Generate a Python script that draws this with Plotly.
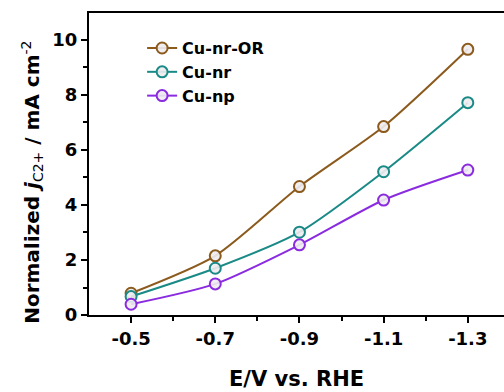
import plotly.graph_objects as go

potential = [-0.5, -0.7, -0.9, -1.1, -1.3]
cu_nr_or = [0.79, 2.15, 4.67, 6.85, 9.66]
cu_nr = [0.67, 1.70, 3.01, 5.21, 7.72]
cu_np = [0.39, 1.13, 2.55, 4.18, 5.27]

x_ticktext = ["-0.5", "-0.7", "-0.9", "-1.1", "-1.3"]
y_tickvals = [0, 2, 4, 6, 8, 10]

series = [
    ("Cu-nr-OR", cu_nr_or, "#8B5A1C"),
    ("Cu-nr", cu_nr, "#1A8A86"),
    ("Cu-np", cu_np, "#8A2BE0"),
]

fig = go.Figure()
for name, vals, col in series:
    fig.add_trace(go.Scatter(
        x=potential, y=vals, name=f"<b>{name}</b>", mode="lines+markers",
        line=dict(color=col, width=2, shape="spline", smoothing=0.7),
        marker=dict(symbol="circle", size=11, color="rgba(238,236,240,0.9)",
                    line=dict(color=col, width=2)),
    ))

font = "DejaVu Sans, Arial, sans-serif"
fig.update_layout(
    width=504, height=392,
    margin=dict(l=89, r=0, t=13, b=77),
    paper_bgcolor="white", plot_bgcolor="white",
    font=dict(family=font, color="black"),
    showlegend=True,
    legend=dict(x=0.128, y=0.94, xanchor="left", yanchor="top",
                font=dict(size=16, family=font, color="black"),
                bgcolor="rgba(0,0,0,0)", tracegroupgap=0),
    xaxis=dict(
        range=[-0.4, -1.386], tickvals=potential,
        ticktext=[f"<b>{t}</b>" for t in x_ticktext],
        ticks="outside", ticklen=6, tickwidth=1.5, tickcolor="black",
        minor=dict(tickvals=[-0.6, -0.8, -1.0, -1.2], ticks="outside", ticklen=4, tickwidth=1.5, tickcolor="black"),
        showline=True, linecolor="black", linewidth=2, mirror=True,
        showgrid=False, zeroline=False,
        tickfont=dict(size=18, family=font),
        title=dict(text="<b>E/V vs. RHE</b>", font=dict(size=21, family=font), standoff=24),
    ),
    yaxis=dict(
        range=[0, 10.98], tickvals=y_tickvals,
        ticktext=[f"<b>{t}</b>" for t in y_tickvals],
        ticks="outside", ticklen=6, tickwidth=1.5, tickcolor="black",
        minor=dict(tickvals=[1, 3, 5, 7, 9], ticks="outside", ticklen=4, tickwidth=1.5, tickcolor="black"),
        showline=True, linecolor="black", linewidth=2,
        showgrid=False, zeroline=False,
        tickfont=dict(size=18, family=font),
    ),
    annotations=[dict(
        text="<b>Normalized <i>j</i></b><sub>C2+</sub><b> / mA cm</b><sup>-2</sup>",
        textangle=-90, xref="paper", yref="paper", x=-0.138, y=0.44,
        xanchor="center", yanchor="middle", showarrow=False,
        font=dict(size=20, family=font, color="black"),
    )],
)

fig.write_html("out.html")
